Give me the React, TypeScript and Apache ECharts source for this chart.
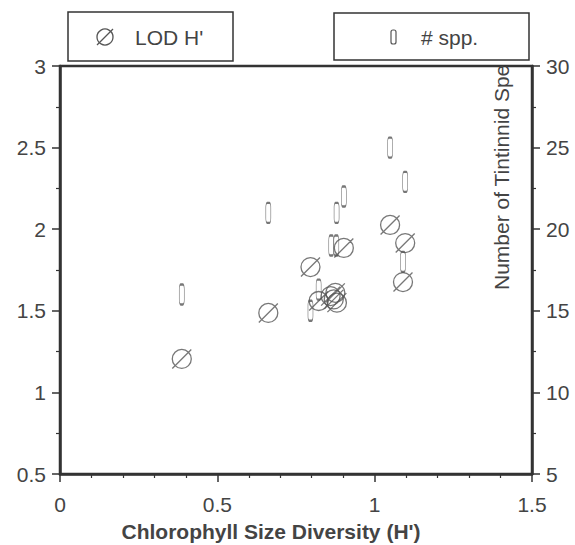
import React, { useEffect, useRef } from "react";
import * as echarts from "echarts";

const lodX = [0.387, 0.662, 0.796, 0.822, 0.86, 0.875, 0.88, 0.87, 0.902, 1.049, 1.097, 1.09];
const lodY = [1.205, 1.487, 1.768, 1.56, 1.59, 1.61, 1.55, 1.57, 1.885, 2.026, 1.915, 1.676];
const sppX = [0.387, 0.662, 0.862, 0.878, 0.879, 0.902, 0.822, 0.796, 1.049, 1.097, 1.09];
const sppY = [16, 21, 19, 19, 21, 22, 16.3, 15, 25, 22.9, 18];

const xTitle = "Chlorophyll Size Diversity (H')";
const yRightTitle = "Number of Tintinnid Spe";
const legendLod = "LOD H'";
const legendSpp = "# spp.";

const FONT = "'Liberation Sans', Arial, Helvetica, sans-serif";
const AXIS = "#333";
const TXT = "#444";
const MARK = "#555";

const slashCircle = "path://M21,12 A9,9 0 1,1 3,12 A9,9 0 1,1 21,12 Z M3,21 L21,3";

export default function App() {
  const ref = useRef<HTMLDivElement>(null);
  useEffect(() => {
    if (!ref.current) return;
    const chart = echarts.init(ref.current, null, { renderer: "svg" });
    const axisCommon = {
      axisLine: { show: true, lineStyle: { color: AXIS, width: 2.5 } },
      axisTick: { show: true, inside: false, length: 8, lineStyle: { color: AXIS, width: 1.5 } },
      minorTick: { show: true, length: 4, lineStyle: { color: AXIS, width: 1.2 } },
      splitLine: { show: false },
      minorSplitLine: { show: false },
    };
    chart.setOption({
      animation: false,
      backgroundColor: "#fff",
      grid: { left: 60, right: 43, top: 66, bottom: 71, show: true, borderColor: AXIS, borderWidth: 2.5 },
      xAxis: {
        type: "value",
        min: 0,
        max: 1.5,
        interval: 0.5,
        ...axisCommon,
        minorTick: { ...axisCommon.minorTick, splitNumber: 5 },
        axisLabel: { fontSize: 21, color: TXT, fontFamily: FONT, margin: 20, formatter: (v: number) => String(v) },
      },
      yAxis: [
        {
          type: "value",
          position: "left",
          min: 0.5,
          max: 3,
          interval: 0.5,
          ...axisCommon,
          minorTick: { ...axisCommon.minorTick, splitNumber: 2 },
          axisLabel: { fontSize: 21, color: TXT, fontFamily: FONT, margin: 14, formatter: (v: number) => String(v) },
        },
        {
          type: "value",
          position: "right",
          min: 5,
          max: 30,
          interval: 5,
          ...axisCommon,
          minorTick: { ...axisCommon.minorTick, splitNumber: 2 },
          axisLabel: { fontSize: 21, color: TXT, fontFamily: FONT, margin: 14 },
        },
      ],
      series: [
        {
          type: "scatter",
          name: legendLod,
          yAxisIndex: 0,
          symbol: slashCircle,
          symbolSize: 19,
          itemStyle: { color: "rgba(0,0,0,0)", borderColor: MARK, borderWidth: 1.3 },
          data: lodX.map((x, i) => [x, lodY[i]]),
          z: 3,
        },
        {
          type: "scatter",
          name: legendSpp,
          yAxisIndex: 1,
          symbol: "roundRect",
          symbolSize: [5, 20],
          itemStyle: { color: "rgba(0,0,0,0)", borderColor: MARK, borderWidth: 1.2 },
          data: sppX.map((x, i) => [x, sppY[i]]),
          z: 4,
        },
      ],
      graphic: [
        {
          type: "text",
          x: 501,
          y: 290,
          rotation: Math.PI / 2,
          z: 1,
          style: { text: yRightTitle, fontSize: 21, fontFamily: FONT, fill: TXT, align: "left", verticalAlign: "middle" },
        },
        {
          type: "rect",
          z: 10,
          shape: { x: 68, y: 12, width: 165, height: 49 },
          style: { fill: "#fff", stroke: AXIS, lineWidth: 1.5 },
        },
        {
          type: "circle",
          z: 11,
          shape: { cx: 105, cy: 37, r: 8 },
          style: { fill: "rgba(0,0,0,0)", stroke: MARK, lineWidth: 1.3 },
        },
        {
          type: "line",
          z: 11,
          shape: { x1: 97, y1: 45, x2: 113, y2: 29 },
          style: { stroke: MARK, lineWidth: 1.3 },
        },
        {
          type: "text",
          z: 11,
          x: 135,
          y: 37,
          style: { text: legendLod, fontSize: 21, fontFamily: FONT, fill: TXT, align: "left", verticalAlign: "middle" },
        },
        {
          type: "rect",
          z: 10,
          shape: { x: 334, y: 13, width: 195, height: 47 },
          style: { fill: "#fff", stroke: AXIS, lineWidth: 1.5 },
        },
        {
          type: "rect",
          z: 11,
          shape: { x: 391, y: 30, width: 5, height: 14, r: 2 },
          style: { fill: "rgba(0,0,0,0)", stroke: MARK, lineWidth: 1.2 },
        },
        {
          type: "text",
          z: 11,
          x: 421,
          y: 37,
          style: { text: legendSpp, fontSize: 21, fontFamily: FONT, fill: TXT, align: "left", verticalAlign: "middle" },
        },
        {
          type: "text",
          z: 11,
          x: 271,
          y: 531,
          style: { text: xTitle, fontSize: 21, fontWeight: "bold", fontFamily: FONT, fill: TXT, align: "center", verticalAlign: "middle" },
        },
      ],
    });
    return () => chart.dispose();
  }, []);
  return <div ref={ref} style={{ position: "fixed", left: 0, top: 0, width: 575, height: 545 }} />;
}
